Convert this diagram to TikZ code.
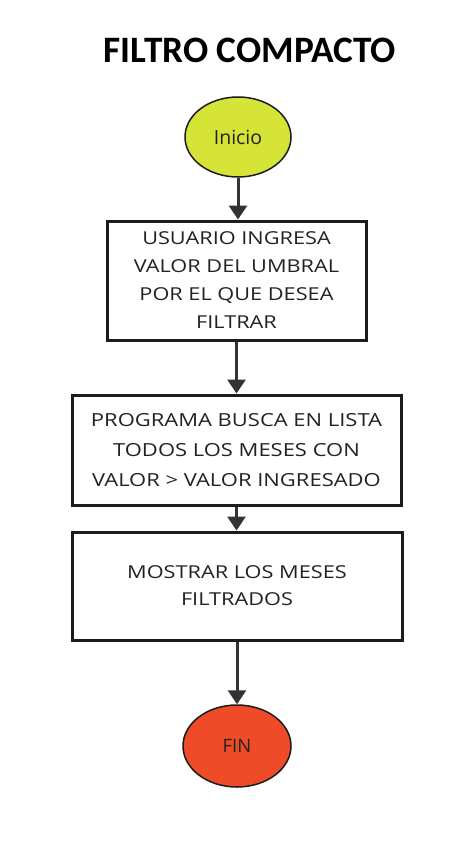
\documentclass[tikz,border=0pt]{standalone}
\usepackage{fontspec}
\setmainfont{Open Sans}
\newfontfamily\titlefont{Carlito}
\newfontfamily\boxfont[FakeStretch=1.22]{Open Sans}
\usetikzlibrary{shapes.geometric,arrows.meta}
\definecolor{inicioc}{HTML}{D5E436}
\definecolor{finc}{HTML}{F04B28}
\definecolor{linec}{HTML}{333333}
\definecolor{boxline}{HTML}{1C1C1C}
\definecolor{txt}{HTML}{222222}
\begin{document}
\begin{tikzpicture}[x=1pt,y=-1pt,
  term/.style={ellipse,draw=boxline,line width=1.5pt,inner sep=0pt,minimum width=106pt,minimum height=80pt,font=\fontsize{19.5}{22}\selectfont,text=txt},
  procbox/.style={rectangle,draw=boxline,line width=3pt,fill=white,inner sep=0pt,align=center,text=txt,font=\boxfont\fontsize{17.8}{28}\selectfont},
  flow/.style={draw=linec,line width=3pt,-{Triangle[width=18pt,length=14pt]}}]
\useasboundingbox[fill=white] (0,0) rectangle (476,851);
\node[font=\titlefont\bfseries\fontsize{37.3}{40}\selectfont] (title) at (250,50) {FILTRO COMPACTO};
\node[term,fill=inicioc] (ini) at (238,137) {Inicio};
\node[procbox,minimum width=259pt,minimum height=119pt] (b1) at (236.5,280.5) {USUARIO INGRESA\\VALOR DEL UMBRAL\\POR EL QUE DESEA\\FILTRAR};
\node[procbox,minimum width=329pt,minimum height=110pt,font=\boxfont\fontsize{18}{30}\selectfont] (b2) at (236.5,450) {PROGRAMA BUSCA EN LISTA\\TODOS LOS MESES CON\\VALOR > VALOR INGRESADO};
\node[procbox,minimum width=330pt,minimum height=108pt,font=\boxfont\fontsize{17.8}{27}\selectfont] (b3) at (237,586) {MOSTRAR LOS MESES\\FILTRADOS};
\node[term,fill=finc,minimum width=108pt,minimum height=82pt,font=\fontsize{18.5}{22}\selectfont] (fin) at (237,746) {FIN};
\draw[flow] (ini.south) -- (ini.south |- b1.north);
\draw[flow] (b1.south) -- (b1.south |- b2.north);
\draw[flow] (b2.south) -- (b2.south |- b3.north);
\draw[flow] (b3.south) -- (b3.south |- fin.north);
\end{tikzpicture}
\end{document}
